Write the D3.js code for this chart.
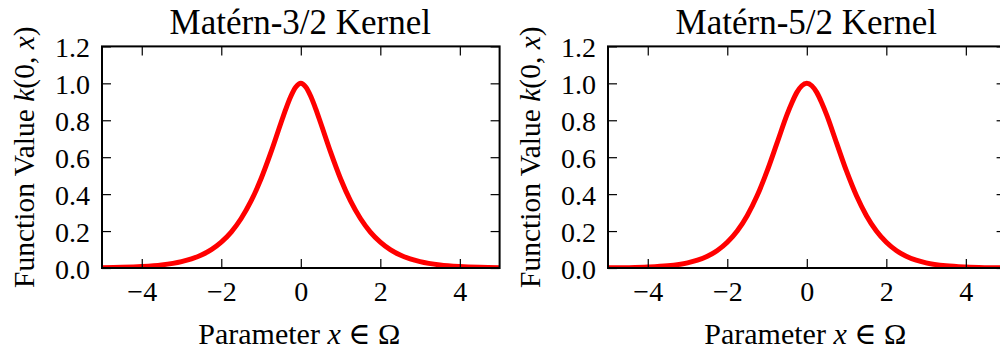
<!DOCTYPE html>
<html>
<head>
<meta charset="utf-8">
<script src="https://cdn.jsdelivr.net/npm/d3@7"></script>
<style>
  html, body { margin: 0; padding: 0; background: #fff; }
  svg { display: block; }
  text { font-family: "Liberation Serif", "DejaVu Serif", serif; fill: #000; }
</style>
</head>
<body>
<svg id="chart" width="1000" height="356"></svg>
<script>
// Sample positions along the parameter axis
const xValues = [-5, -4.5, -4, -3.5, -3, -2.75, -2.5, -2.25, -2, -1.75, -1.5, -1.25, -1,
  -0.75, -0.5, -0.375, -0.25, -0.125, 0, 0.125, 0.25, 0.375, 0.5, 0.75,
  1, 1.25, 1.5, 1.75, 2, 2.25, 2.5, 2.75, 3, 3.5, 4, 4.5, 5];

// Kernel values k(0, x) at those positions
const matern32 = [0.0017, 0.0036, 0.0078, 0.0164, 0.0343, 0.0492, 0.0702, 0.0994, 0.140, 0.1945, 0.268, 0.363, 0.483,
  0.627, 0.785, 0.862, 0.930, 0.980, 1.0, 0.980, 0.930, 0.862, 0.785, 0.627,
  0.483, 0.363, 0.268, 0.1945, 0.140, 0.0994, 0.0702, 0.0492, 0.0343, 0.0164, 0.0078, 0.0036, 0.0017];

const matern52 = [0.0008, 0.0019, 0.0048, 0.0117, 0.0277, 0.0422, 0.0635, 0.0945, 0.139, 0.200, 0.283, 0.391, 0.524,
  0.676, 0.829, 0.895, 0.951, 0.987, 1.0, 0.987, 0.951, 0.895, 0.829, 0.676,
  0.524, 0.391, 0.283, 0.200, 0.139, 0.0945, 0.0635, 0.0422, 0.0277, 0.0117, 0.0048, 0.0019, 0.0008];

const panelTitles = ["Matérn-3/2 Kernel", "Matérn-5/2 Kernel"];
const xTicks = [-4, -2, 0, 2, 4];
const yTicks = [0.0, 0.2, 0.4, 0.6, 0.8, 1.0, 1.2];
const xDomain = [-5, 5];
const yDomain = [0, 1.2];

const svg = d3.select("#chart");

const panels = [
  { title: panelTitles[0], values: matern32, left: 102, width: 397.6 },
  { title: panelTitles[1], values: matern52, left: 608, width: 397.6 }
];
const plotTop = 46.4, plotBottom = 268;
const tickLen = 9;

panels.forEach((p, i) => {
  const x = d3.scaleLinear().domain(xDomain).range([p.left, p.left + p.width]);
  const y = d3.scaleLinear().domain(yDomain).range([plotBottom, plotTop]);
  const g = svg.append("g");

  const clipId = "clip" + i;
  g.append("clipPath").attr("id", clipId)
    .append("rect")
    .attr("x", p.left).attr("y", plotTop - 5)
    .attr("width", p.width).attr("height", plotBottom - plotTop + 5);

  // kernel curve
  const line = d3.line()
    .x((d, j) => x(xValues[j]))
    .y(d => y(d))
    .curve(d3.curveMonotoneX);
  g.append("path")
    .datum(p.values)
    .attr("clip-path", `url(#${clipId})`)
    .attr("d", line)
    .attr("fill", "none")
    .attr("stroke", "#ff0000")
    .attr("stroke-width", 5)
    .attr("stroke-linejoin", "round");

  // inward ticks on all four sides
  const axisStyle = sel => {
    sel.select(".domain").remove();
    sel.selectAll(".tick line").attr("stroke", "#000").attr("stroke-width", 1.2);
    sel.selectAll(".tick text")
      .style("font-size", "28px");
  };

  const xb = g.append("g").attr("transform", `translate(0,${plotBottom})`)
    .call(d3.axisBottom(x).tickValues(xTicks).tickSizeInner(-tickLen).tickSizeOuter(0)
      .tickFormat(d3.format("")));
  axisStyle(xb);
  xb.selectAll(".tick text").attr("y", 13).attr("dy", "0.71em");

  const xt = g.append("g").attr("transform", `translate(0,${plotTop})`)
    .call(d3.axisTop(x).tickValues(xTicks).tickSizeInner(-tickLen).tickSizeOuter(0).tickFormat(""));
  axisStyle(xt);

  const yl = g.append("g").attr("transform", `translate(${p.left},0)`)
    .call(d3.axisLeft(y).tickValues(yTicks).tickSizeInner(-tickLen).tickSizeOuter(0)
      .tickFormat(d3.format(".1f")));
  axisStyle(yl);
  yl.selectAll(".tick text").attr("x", -12).attr("dy", "0.36em");

  const yr = g.append("g").attr("transform", `translate(${p.left + p.width},0)`)
    .call(d3.axisRight(y).tickValues(yTicks).tickSizeInner(-tickLen).tickSizeOuter(0).tickFormat(""));
  axisStyle(yr);

  // frame
  g.append("rect")
    .attr("x", p.left).attr("y", plotTop)
    .attr("width", p.width).attr("height", plotBottom - plotTop)
    .attr("fill", "none").attr("stroke", "#000").attr("stroke-width", 2);

  const cx = p.left + p.width / 2 - 0.5;

  // title
  g.append("text")
    .attr("x", cx).attr("y", 34)
    .attr("text-anchor", "middle")
    .style("font-size", "35px")
    .text(p.title);

  // x label
  const xl = g.append("text")
    .attr("x", cx - 1).attr("y", 344)
    .attr("text-anchor", "middle")
    .style("font-size", "30px");
  xl.append("tspan").text("Parameter ");
  xl.append("tspan").style("font-style", "italic").text("x");
  xl.append("tspan").text(" ∈ Ω");

  // y label
  const ylab = g.append("text")
    .attr("transform", `translate(${p.left - 68},${(plotTop + plotBottom) / 2}) rotate(-90)`)
    .attr("text-anchor", "middle")
    .style("font-size", "29.5px");
  ylab.append("tspan").text("Function Value ");
  ylab.append("tspan").style("font-style", "italic").text("k");
  ylab.append("tspan").text("(0, ");
  ylab.append("tspan").style("font-style", "italic").text("x");
  ylab.append("tspan").text(")");
});
</script>
</body>
</html>
